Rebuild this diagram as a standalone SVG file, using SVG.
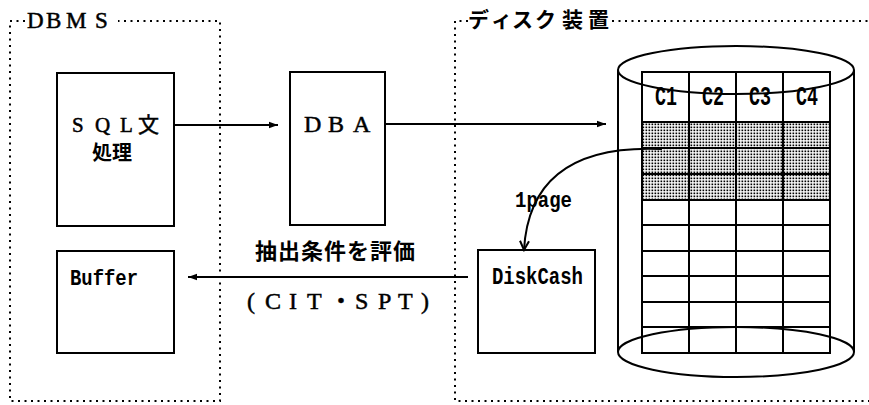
<svg xmlns="http://www.w3.org/2000/svg" width="869" height="405" viewBox="0 0 869 405">
<style>
.dot{fill:none;stroke:#000;stroke-width:2;stroke-dasharray:2 4.5}
.box{fill:#fff;stroke:#000;stroke-width:2}
.ln{fill:none;stroke:#000;stroke-width:2}
.serif{font-family:"Liberation Serif","Noto Sans CJK JP",serif;fill:#000;stroke:#000;stroke-width:0.5}
.cjk{font-family:"Noto Sans CJK JP",sans-serif;font-weight:bold;fill:#000}
.mono{font-family:"Liberation Mono",monospace;font-weight:bold;fill:#000}
</style>
<defs>
<marker id="ah" markerUnits="userSpaceOnUse" markerWidth="10" markerHeight="8" refX="9" refY="4" orient="auto">
<path d="M0,0.8 L9,4 L0,7.2 Z" fill="#000"/>
</marker>
<marker id="av" markerUnits="userSpaceOnUse" markerWidth="12" markerHeight="12" refX="10" refY="6" orient="auto">
<path d="M1,1.5 L10,6 L1,10.5" fill="none" stroke="#000" stroke-width="2"/>
</marker>
<pattern id="dots" width="3" height="3" patternUnits="userSpaceOnUse">
<rect width="3" height="3" fill="#fff"/>
<rect x="0.5" y="0.5" width="1.7" height="1.7" fill="#000"/>
</pattern>
</defs>
<rect width="869" height="405" fill="#fff"/>

<g id="dbms">
<path class="dot" d="M25,21 H10 V401 H220 V21 H118"/>
<text class="serif" font-size="23" y="28" x="27 46 66 95">DBMS</text>
</g>

<g id="disk">
<path class="dot" d="M468,21 H455 V401 H869"/>
<path class="dot" d="M612,21 H869"/>
<text class="cjk" font-size="21" y="27" x="468 491 512 535 562 588">ディスク装置</text>
</g>

<g id="sql">
<rect class="box" x="57" y="73" width="117" height="153"/>
<text class="serif" font-size="21" y="132" x="72 95 120 138">SQL文</text>
<text class="cjk" font-size="20" x="92" y="160" font-weight="normal">処理</text>
</g>

<g id="dba">
<rect class="box" x="290" y="72" width="95" height="153"/>
<text class="serif" font-size="24" y="132" x="304 328 353">DBA</text>
</g>

<g id="buffer">
<rect class="box" x="57" y="251" width="117" height="102"/>
<text class="mono" font-size="22" x="70" y="285" textLength="68" lengthAdjust="spacingAndGlyphs">Buffer</text>
</g>

<g id="diskcash">
<rect class="box" x="478" y="250" width="117" height="103"/>
<text class="mono" font-size="23" x="492" y="284" textLength="91" lengthAdjust="spacingAndGlyphs">DiskCash</text>
</g>

<g id="table">
<rect x="642" y="122" width="188" height="78" fill="url(#dots)"/>
<rect x="642" y="72" width="188" height="281" fill="none" stroke="#000" stroke-width="2"/>
<g class="ln">
<path d="M689,72 V353 M736,72 V353 M783,72 V353"/>
<path d="M642,122 H830 M642,148 H830 M642,174 H830 M642,200 H830 M642,225 H830 M642,251 H830 M642,276 H830 M642,302 H830 M642,327 H830"/>
</g>
<g class="mono" font-size="27">
<text x="655" y="105" textLength="22" lengthAdjust="spacingAndGlyphs">C1</text>
<text x="702" y="105" textLength="22" lengthAdjust="spacingAndGlyphs">C2</text>
<text x="749" y="105" textLength="22" lengthAdjust="spacingAndGlyphs">C3</text>
<text x="796" y="105" textLength="22" lengthAdjust="spacingAndGlyphs">C4</text>
</g>
</g>

<g id="cylinder" class="ln">
<ellipse cx="736" cy="70" rx="118" ry="24"/>
<ellipse cx="736" cy="352" rx="118" ry="25"/>
<path d="M618,70 V352 M854,70 V352"/>
</g>

<g id="connectors">
<path class="ln" d="M174,125 H278" marker-end="url(#ah)"/>
<path class="ln" d="M385,124 H606" marker-end="url(#ah)"/>
<path class="ln" d="M468,277 H188" marker-end="url(#ah)"/>
<path class="ln" d="M662,149 Q530,143 524,250" marker-end="url(#av)"/>
<text class="mono" font-size="22" x="515" y="207" textLength="57" lengthAdjust="spacingAndGlyphs">1page</text>
<text class="cjk" font-size="22" x="255" y="259" letter-spacing="1">抽出条件を評価</text>
<text class="serif" font-size="24" y="309" x="247 265 289 307 329 355 378 398 421">(CIT・SPT)</text>
</g>
</svg>
